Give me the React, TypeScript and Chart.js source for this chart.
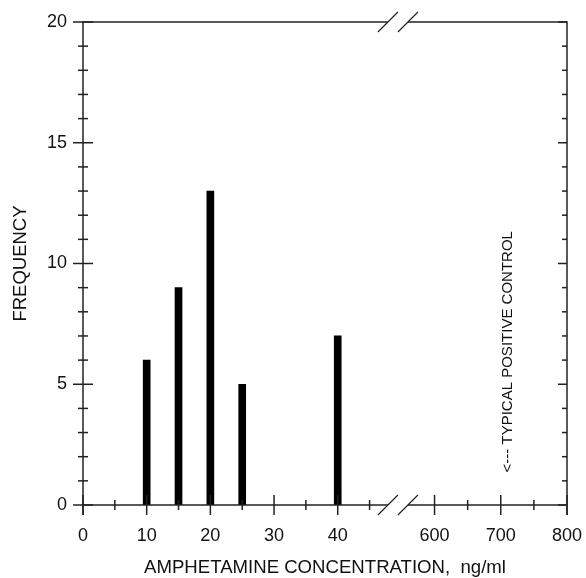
import React, { useEffect, useRef } from "react";
import { Chart, registerables } from "chart.js";

Chart.register(...registerables);

// ---- data ----
const concentrations = [10, 15, 20, 25, 40];
const frequencies = [6, 9, 13, 5, 7];
const xTickValues = [0, 10, 20, 30, 40, 600, 700, 800];
const xTickLabels = ["0", "10", "20", "30", "40", "600", "700", "800"];
const xMinorLow = [0, 5, 10, 15, 20, 25, 30, 35, 40, 45];
const xMinorHigh = [600, 650, 700, 750, 800];
const yTickValues = [0, 5, 10, 15, 20];
const annotationValue = 700;
const annotationStart = 1.35;
const annotationText = "<--- TYPICAL POSITIVE CONTROL";

// broken-axis mapping: low segment 0..50 kept, high segment 600..800 compressed
const BREAK_AT = 49.45;
const toAxis = (v: number) => (v <= 50 ? v : 55.2 + (v - 600) * 0.104);

const FONT = "'Liberation Sans', Arial, Helvetica, sans-serif";
const INK = "#111";
const LINE = "#222";

const axisPlugin = {
  id: "brokenAxes",
  afterDraw(chart: any) {
    const { ctx, chartArea, scales } = chart;
    const xs = scales.x;
    const ys = scales.y;
    const L = chartArea.left;
    const R = chartArea.right;
    const T = chartArea.top;
    const B = chartArea.bottom;
    const bx = xs.getPixelForValue(BREAK_AT);
    const gap = 10;
    ctx.save();
    ctx.strokeStyle = LINE;
    ctx.lineWidth = 1.5;
    ctx.lineCap = "butt";
    const line = (x1: number, y1: number, x2: number, y2: number) => {
      ctx.beginPath();
      ctx.moveTo(x1, y1);
      ctx.lineTo(x2, y2);
      ctx.stroke();
    };
    // frame
    line(L, T, bx - gap, T);
    line(bx + gap, T, R, T);
    line(L, B, bx - gap, B);
    line(bx + gap, B, R, B);
    line(L, T - 0.75, L, B + 10);
    line(R, T - 0.75, R, B + 10);
    // break slashes
    ctx.lineWidth = 1.2;
    for (const yy of [T, B]) {
      line(bx - 20, yy + 10, bx, yy - 10);
      line(bx, yy + 10, bx + 20, yy - 10);
    }
    ctx.lineWidth = 1.5;
    // x ticks
    const xTick = (v: number) => {
      const px = xs.getPixelForValue(toAxis(v));
      const major = v % 100 === 0 || (v <= 50 && v % 10 === 0);
      const h = major ? 10 : 5;
      line(px, B - h, px, B + h);
    };
    xMinorLow.forEach(xTick);
    xMinorHigh.forEach(xTick);
    // y ticks
    for (let v = 0; v <= 20; v++) {
      const py = ys.getPixelForValue(v);
      const major = yTickValues.includes(v);
      const h = major ? 10 : 5;
      line(L - h, py, L + h, py);
      line(R - (major ? 9 : 5), py, R, py);
    }
    // annotation
    const ax = xs.getPixelForValue(toAxis(annotationValue)) + 7;
    const ay = ys.getPixelForValue(annotationStart);
    ctx.translate(ax, ay);
    ctx.rotate(-Math.PI / 2);
    ctx.fillStyle = INK;
    ctx.font = `15px ${FONT}`;
    ctx.textAlign = "left";
    ctx.textBaseline = "middle";
    ctx.fillText(annotationText, 0, 0);
    ctx.restore();
  },
};

export default function App() {
  const ref = useRef<HTMLCanvasElement>(null);
  useEffect(() => {
    document.body.style.margin = "0";
    const canvas = ref.current!;
    const chart = new Chart(canvas, {
      type: "bar",
      data: {
        datasets: [
          {
            data: concentrations.map((c, i) => ({ x: toAxis(c), y: frequencies[i] })),
            backgroundColor: "#000",
            borderWidth: 0,
            barThickness: 7,
          } as any,
        ],
      },
      options: {
        animation: false,
        responsive: false,
        layout: { padding: { top: 22, right: 19, left: 0, bottom: 0 } },
        plugins: { legend: { display: false }, tooltip: { enabled: false } },
        scales: {
          x: {
            type: "linear",
            min: 0,
            max: toAxis(800),
            offset: false,
            grid: { display: false, drawTicks: false },
            border: { display: false },
            afterFit: (s: any) => {
              s.height = 73;
              s.paddingLeft = 0;
              s.paddingRight = 0;
            },
            afterBuildTicks: (s: any) => {
              s.ticks = xTickValues.map((v) => ({ value: toAxis(v) }));
            },
            ticks: {
              autoSkip: false,
              maxRotation: 0,
              padding: 20,
              color: INK,
              font: { family: FONT, size: 18 },
              callback: (_v: any, i: number) => xTickLabels[i],
            },
            title: {
              display: true,
              text: "AMPHETAMINE CONCENTRATION,  ng/ml",
              color: INK,
              font: { family: FONT, size: 18.6 },
              padding: { top: 0, bottom: -1 },
            },
          },
          y: {
            min: 0,
            max: 20,
            grid: { display: false, drawTicks: false },
            border: { display: false },
            afterFit: (s: any) => {
              s.width = 83;
              s.paddingTop = 0;
              s.paddingBottom = 0;
            },
            afterBuildTicks: (s: any) => {
              s.ticks = yTickValues.map((v) => ({ value: v }));
            },
            ticks: {
              padding: 16,
              color: INK,
              font: { family: FONT, size: 18 },
            },
            title: {
              display: true,
              text: "FREQUENCY",
              color: INK,
              font: { family: FONT, size: 18.5 },
              padding: { top: 10, bottom: 0 },
            },
          },
        },
      } as any,
      plugins: [axisPlugin],
    });
    return () => chart.destroy();
  }, []);
  return (
    <div style={{ width: 586, height: 578, background: "#fff" }}>
      <canvas ref={ref} width={586} height={578} />
    </div>
  );
}
